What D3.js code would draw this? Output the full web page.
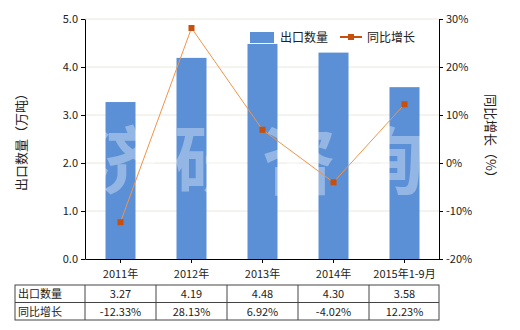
<!DOCTYPE html>
<html>
<head>
<meta charset="utf-8">
<script src="https://cdn.jsdelivr.net/npm/d3@7"></script>
<style>
body { margin: 0; background: #fff; }
text { font-family: "Noto Sans CJK SC", "Microsoft YaHei", sans-serif; }
</style>
</head>
<body>
<svg id="chart"></svg>
<script>
const width = 520;
const height = 330;

const categories = ['2011年', '2012年', '2013年', '2014年', '2015年1-9月'];
const quantity = [3.27, 4.19, 4.48, 4.30, 3.58];
const growth = [-12.33, 28.13, 6.92, -4.02, 12.23];
const leftTicks = [0, 1, 2, 3, 4, 5];
const rightTicks = [-20, -10, 0, 10, 20, 30];

const plotLeft = 85, plotRight = 440, plotTop = 19, plotBottom = 259;

const svg = d3.select('#chart').attr('width', width).attr('height', height);

const x = d3.scaleBand().domain(categories).range([plotLeft, plotRight]);
const y = d3.scaleLinear().domain([0, 5]).range([plotBottom, plotTop]);
const yR = d3.scaleLinear().domain([-20, 30]).range([plotBottom, plotTop]);

// gridlines
svg.append('g').selectAll('line').data(leftTicks.slice(1)).enter().append('line')
    .attr('x1', plotLeft).attr('x2', plotRight)
    .attr('y1', d => y(d)).attr('y2', d => y(d))
    .attr('stroke', '#ebe8dc').attr('stroke-width', 1);

// bars
svg.append('g').selectAll('rect').data(quantity).enter().append('rect')
    .attr('x', (d, i) => x(categories[i]) + x.bandwidth() / 2 - 15)
    .attr('width', 30)
    .attr('y', d => y(d))
    .attr('height', d => plotBottom - y(d))
    .attr('fill', '#5b8fd6');

// watermark
svg.append('text')
    .attr('x', 262).attr('y', 188)
    .attr('text-anchor', 'middle')
    .attr('font-size', 74).attr('font-weight', 'bold')
    .attr('fill', '#fff').attr('fill-opacity', 0.35)
    .attr('letter-spacing', 14)
    .text('济研咨询');

// growth line
const pts = growth.map((d, i) => [x(categories[i]) + x.bandwidth() / 2, yR(d)]);
svg.append('path').datum(pts)
    .attr('fill', 'none').attr('stroke', '#f0944a').attr('stroke-width', 1)
    .attr('d', d3.line());
svg.append('g').selectAll('rect').data(pts).enter().append('rect')
    .attr('x', d => d[0] - 3).attr('y', d => d[1] - 3)
    .attr('width', 6).attr('height', 6)
    .attr('fill', '#c8500c');

// axes
const yAxis = svg.append('g').attr('transform', `translate(${plotLeft},0)`)
    .call(d3.axisLeft(y).tickValues(leftTicks).tickFormat(d3.format('.1f')).tickSize(4).tickSizeOuter(0));
const yRAxis = svg.append('g').attr('transform', `translate(${plotRight - 1},0)`)
    .call(d3.axisRight(yR).tickValues(rightTicks).tickFormat(d => d + '%').tickSize(4).tickSizeOuter(0));
const xAxis = svg.append('g').attr('transform', `translate(0,${plotBottom})`)
    .call(d3.axisBottom(x).tickSize(4).tickSizeOuter(0));

[yAxis, yRAxis, xAxis].forEach(a => {
    a.selectAll('path, line').attr('stroke', '#000');
    a.selectAll('text').attr('font-size', 11).attr('fill', '#222')
        .style('font-family', '"Noto Sans CJK SC", sans-serif');
});
xAxis.selectAll('text').attr('dy', '1.1em');

// axis titles
svg.append('text')
    .attr('transform', `translate(26,${(plotTop + plotBottom) / 2}) rotate(-90)`)
    .attr('text-anchor', 'middle').attr('font-size', 13).attr('fill', '#222')
    .text('出口数量（万吨）');
svg.append('text')
    .attr('transform', `translate(486,${(plotTop + plotBottom) / 2}) rotate(90)`)
    .attr('text-anchor', 'middle').attr('font-size', 13).attr('fill', '#222')
    .text('同比增长（%）');

// legend
svg.append('rect').attr('x', 250).attr('y', 32).attr('width', 24).attr('height', 11).attr('fill', '#5b8fd6');
svg.append('text').attr('x', 280).attr('y', 42).attr('font-size', 12).attr('fill', '#222').text('出口数量');
svg.append('line').attr('x1', 340).attr('x2', 362).attr('y1', 37).attr('y2', 37)
    .attr('stroke', '#c8500c').attr('stroke-width', 2);
svg.append('rect').attr('x', 348).attr('y', 34).attr('width', 6).attr('height', 6).attr('fill', '#c8500c');
svg.append('text').attr('x', 367).attr('y', 42).attr('font-size', 12).attr('fill', '#222').text('同比增长');

// data table
const tableTop = 285, rowH = 17.5, tableLeft = 15;
const rows = [
    { name: '出口数量', values: quantity.map(d => d.toFixed(2)) },
    { name: '同比增长', values: growth.map(d => d.toFixed(2) + '%') }
];
const table = svg.append('g');
table.append('rect')
    .attr('x', tableLeft).attr('y', tableTop)
    .attr('width', plotRight - 1 - tableLeft).attr('height', rowH * 2)
    .attr('fill', 'none').attr('stroke', '#444');
table.append('line').attr('x1', tableLeft).attr('x2', plotRight - 1)
    .attr('y1', tableTop + rowH).attr('y2', tableTop + rowH).attr('stroke', '#444');
const cols = [plotLeft].concat(categories.slice(1).map(c => x(c)));
table.selectAll('.vl').data(cols).enter().append('line')
    .attr('x1', d => d).attr('x2', d => d)
    .attr('y1', tableTop).attr('y2', tableTop + rowH * 2).attr('stroke', '#444');
rows.forEach((r, ri) => {
    const ty = tableTop + rowH * ri + 13;
    table.append('text').attr('x', tableLeft + 3).attr('y', ty)
        .attr('font-size', 11).attr('fill', '#222').text(r.name);
    r.values.forEach((v, i) => {
        table.append('text')
            .attr('x', x(categories[i]) + x.bandwidth() / 2).attr('y', ty)
            .attr('text-anchor', 'middle').attr('font-size', 11).attr('fill', '#222')
            .text(v);
    });
});
</script>
</body>
</html>
